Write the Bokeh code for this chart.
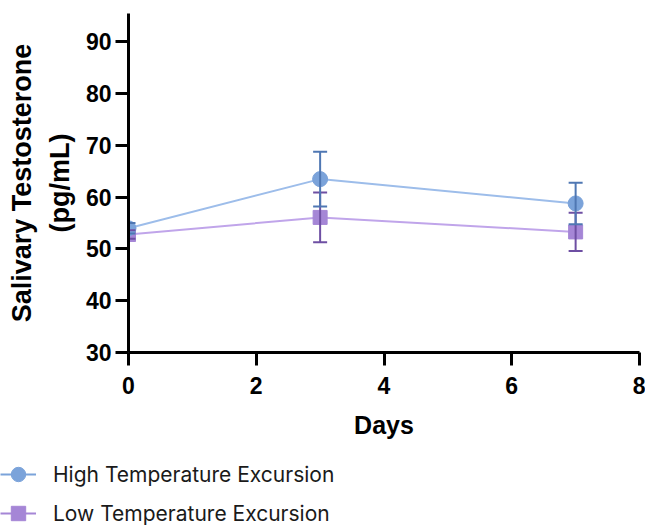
from bokeh.plotting import figure
from bokeh.models import (ColumnDataSource, Range1d, FixedTicker, Whisker, TeeHead,
                          Legend, LegendItem)
from bokeh.embed import file_html
from bokeh.resources import INLINE

# ---- data ----
days = [0, 3, 7]
high_mean = [54.0, 63.5, 58.8]
high_err = [1.0, 5.3, 4.0]
low_mean = [52.8, 56.1, 53.3]
low_err = [0.8, 4.8, 3.7]
x_ticks = [0, 2, 4, 6, 8]
y_ticks = [30, 40, 50, 60, 70, 80, 90]
series_names = ["High Temperature Excursion", "Low Temperature Excursion"]

FONT = "Liberation Sans"

p = figure(width=645, height=455, output_backend="svg", toolbar_location=None,
           x_range=Range1d(0, 8), y_range=Range1d(30, 95.5),
           min_border_left=128, min_border_right=6, min_border_top=13,
           min_border_bottom=103)
p.outline_line_color = None
p.xgrid.visible = False
p.ygrid.visible = False
p.background_fill_color = "white"
p.border_fill_color = "white"

for ax in (p.xaxis[0], p.yaxis[0]):
    ax.axis_line_width = 3
    ax.axis_line_color = "black"
    ax.major_tick_line_width = 3
    ax.major_tick_line_color = "black"
    ax.major_tick_in = 0
    ax.major_tick_out = 13
    ax.minor_tick_line_color = None
    ax.major_label_text_font = FONT
    ax.major_label_text_font_style = "bold"
    ax.major_label_text_font_size = "23px"
    ax.major_label_text_color = "black"
    ax.axis_label_text_font = FONT
    ax.axis_label_text_font_style = "bold"
    ax.axis_label_text_color = "black"

p.xaxis[0].ticker = FixedTicker(ticks=x_ticks)
p.yaxis[0].ticker = FixedTicker(ticks=y_ticks)
p.xaxis[0].major_label_standoff = 11
p.yaxis[0].major_label_standoff = 4
p.xaxis[0].axis_label = "Days"
p.xaxis[0].axis_label_text_font_size = "25px"
p.xaxis[0].axis_label_standoff = 14
p.yaxis[0].axis_label = "Salivary Testosterone\n(pg/mL)"
p.yaxis[0].axis_label_text_font_size = "27px"
p.yaxis[0].axis_label_text_line_height = 1.25
p.yaxis[0].axis_label_standoff = 8

blue_line, blue_mark, blue_err = "#9DBDEA", "#7BA3DA", "#4F77B3"
purp_line, purp_mark, purp_err = "#C0A5EA", "#A586D6", "#6E4FA3"

src_h = ColumnDataSource(dict(x=days, y=high_mean,
                              up=[m + e for m, e in zip(high_mean, high_err)],
                              lo=[m - e for m, e in zip(high_mean, high_err)]))
src_l = ColumnDataSource(dict(x=days, y=low_mean,
                              up=[m + e for m, e in zip(low_mean, low_err)],
                              lo=[m - e for m, e in zip(low_mean, low_err)]))

for src, col in ((src_l, purp_err), (src_h, blue_err)):
    w = Whisker(source=src, base="x", upper="up", lower="lo", dimension="height",
                line_color=col, line_width=2, level="glyph",
                upper_head=TeeHead(size=14, line_color=col, line_width=2),
                lower_head=TeeHead(size=14, line_color=col, line_width=2))
    p.add_layout(w)

p.line("x", "y", source=src_l, line_color=purp_line, line_width=2)
p.line("x", "y", source=src_h, line_color=blue_line, line_width=2)
p.scatter("x", "y", source=src_l, marker="square", size=14,
          fill_color=purp_mark, line_color=purp_mark)
p.scatter("x", "y", source=src_h, marker="circle", size=15,
          fill_color=blue_mark, line_color=blue_mark)

# ---- legend panel (separate figure underneath; its ranges keep the data out of view) ----
q = figure(width=645, height=72, output_backend="svg", toolbar_location=None,
           x_range=Range1d(100, 101), y_range=Range1d(1000, 1001),
           x_axis_location=None, y_axis_location=None,
           min_border_left=0, min_border_right=0, min_border_top=0,
           min_border_bottom=0)
q.outline_line_color = None
q.xgrid.visible = False
q.ygrid.visible = False
q.background_fill_color = "white"
q.border_fill_color = "white"
qh_line = q.line("x", "y", source=src_h, line_color=blue_mark, line_width=2)
qh_mark = q.scatter("x", "y", source=src_h, marker="circle", size=15,
                    fill_color=blue_mark, line_color=blue_mark)
ql_line = q.line("x", "y", source=src_l, line_color=purp_mark, line_width=2)
ql_mark = q.scatter("x", "y", source=src_l, marker="square", size=14,
                    fill_color=purp_mark, line_color=purp_mark)

legend = Legend(items=[LegendItem(label=series_names[0], renderers=[qh_line, qh_mark]),
                       LegendItem(label=series_names[1], renderers=[ql_line, ql_mark])],
                location="top_left", orientation="vertical",
                glyph_width=36, glyph_height=38, label_height=38, spacing=1,
                padding=0, margin=0, label_standoff=17,
                label_text_font="Inter", label_text_font_size="21px",
                label_text_color="#1a1a1a",
                border_line_color=None, background_fill_alpha=0)
q.add_layout(legend, "center")

open("out.html", "w").write(file_html([p, q], INLINE))
